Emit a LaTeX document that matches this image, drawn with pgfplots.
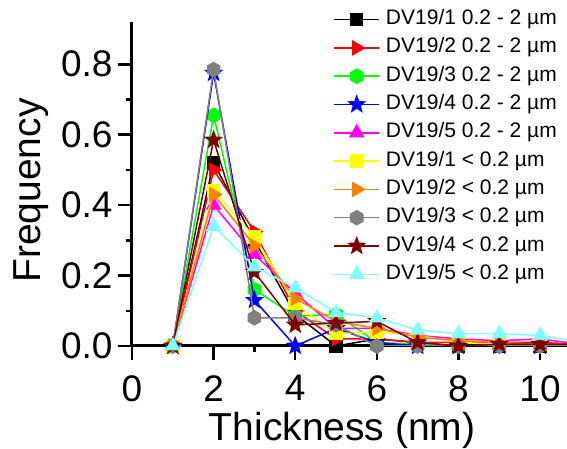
\documentclass[border=0pt]{standalone}
\usepackage{fontspec}
\setmainfont{Liberation Sans}
\usepackage{pgfplots}
\pgfplotsset{compat=1.18}
\usepackage{pgfplotstable}

\definecolor{cBlack}{HTML}{000000}
\definecolor{cRed}{HTML}{FF0000}
\definecolor{cGreen}{HTML}{00FF00}
\definecolor{cBlue}{HTML}{0000FF}
\definecolor{cMagenta}{HTML}{FF00FF}
\definecolor{cYellow}{HTML}{FFFF00}
\definecolor{cOrange}{HTML}{FF8000}
\definecolor{cGray}{HTML}{808080}
\definecolor{cBrown}{HTML}{800000}
\definecolor{cCyan}{HTML}{80FFFF}

% filled hexagon, vertex up
\pgfdeclareplotmark{hexagon*}{%
  \pgfpathmoveto{\pgfpointpolar{90}{\pgfplotmarksize}}%
  \pgfpathlineto{\pgfpointpolar{150}{\pgfplotmarksize}}%
  \pgfpathlineto{\pgfpointpolar{210}{\pgfplotmarksize}}%
  \pgfpathlineto{\pgfpointpolar{270}{\pgfplotmarksize}}%
  \pgfpathlineto{\pgfpointpolar{330}{\pgfplotmarksize}}%
  \pgfpathlineto{\pgfpointpolar{30}{\pgfplotmarksize}}%
  \pgfpathclose\pgfusepathqfillstroke}
% filled five-point star
\pgfdeclareplotmark{fstar*}{%
  \pgfpathmoveto{\pgfpointpolar{90}{\pgfplotmarksize}}%
  \pgfpathlineto{\pgfpointpolar{126}{0.42\pgfplotmarksize}}%
  \pgfpathlineto{\pgfpointpolar{162}{\pgfplotmarksize}}%
  \pgfpathlineto{\pgfpointpolar{198}{0.42\pgfplotmarksize}}%
  \pgfpathlineto{\pgfpointpolar{234}{\pgfplotmarksize}}%
  \pgfpathlineto{\pgfpointpolar{270}{0.42\pgfplotmarksize}}%
  \pgfpathlineto{\pgfpointpolar{306}{\pgfplotmarksize}}%
  \pgfpathlineto{\pgfpointpolar{342}{0.42\pgfplotmarksize}}%
  \pgfpathlineto{\pgfpointpolar{18}{\pgfplotmarksize}}%
  \pgfpathlineto{\pgfpointpolar{54}{0.42\pgfplotmarksize}}%
  \pgfpathclose\pgfusepathqfillstroke}

% thickness (nm) vs frequency; a = 0.2-2 um, b = <0.2 um
\pgfplotstableread{
x   aone atwo athree afour afive  bone btwo bthree bfour bfive
1   0    0    0      0     0      0    0    0      0     0
2   0.52 0.50 0.655  0.775 0.40   0.44 0.43 0.785  0.585 0.34
3   0.30 0.325 0.16  0.13  0.26   0.31 0.285 0.08  0.21  0.225
4   0.09 0.10 0.085  0.0   0.15   0.12 0.135 0.08  0.06  0.165
5   0.0  0.02 0.09   0.05  0.05   0.035 0.07 0.06  0.065 0.095
6   0.02 0.02 0.01   0.01  0.05   0.04 0.05 0.0    0.07  0.08
7   0.01 0.01 0.005  0.0   0.03   0.03 0.025 0.0   0.01  0.045
8   0.0  0.01 0.0    0.0   0.02   0.01 0.015 0.0   0.0   0.035
9   0.0  0.01 0.0    0.0   0.015  0.005 0.01 0.0   0.005 0.035
10  0.0  0.01 0.0    0.0   0.02   0.005 0.005 0.0  0.005 0.03
11  0.0  0.005 0.0   0.0   0.005  0.005 0.005 0.0  0.005 0.01
}\thick

\begin{document}
\begin{tikzpicture}
\begin{axis}[
  name=ax,
  scale only axis, width=435pt, height=324pt,
  xmin=0, xmax=10.66, ymin=0, ymax=0.92,
  axis x line=bottom, axis y line=left,
  axis line style={line width=3pt, -},
  xtick={0,2,4,6,8,10}, minor xtick={1,3,5,7,9},
  ytick={0,0.2,0.4,0.6,0.8}, minor ytick={0.1,0.3,0.5,0.7},
  tick align=outside,
  major tick length=14pt, minor tick length=6pt,
  every tick/.style={black, line width=2.5pt},
  y tick label style={/pgf/number format/fixed, /pgf/number format/fixed zerofill,
    /pgf/number format/precision=1, xshift=-2pt},
  /pgf/number format/assume math mode=true,
  tick label style={font=\fontsize{37}{40}\selectfont},
  x tick label style={yshift=-12pt},
  label style={font=\fontsize{39}{42}\selectfont},
  xlabel={Thickness (nm)}, ylabel={Frequency},
  xlabel style={at={(axis description cs:0.483,-0.262)}, anchor=center},
  ylabel style={at={(axis description cs:-0.232,0.48)}, anchor=center},
  clip mode=individual,
  every axis plot/.append style={line width=1.5pt},
  legend style={draw=none, fill=none, at={(0.984,1.045)}, anchor=north east,
    font=\fontsize{21}{24}\selectfont,
    nodes={inner sep=0pt, text height=15pt, text depth=5pt},
    row sep=8.3pt, column sep=6pt},
  legend cell align=left,
  legend image code/.code={%
    \draw[mark repeat=2,mark phase=2,#1] plot coordinates {(0pt,0pt)(22.5pt,0pt)(45pt,0pt)};},
]
\addplot[cBlack, mark=square*, mark size=6pt] table[y=aone] {\thick};
\addlegendentry{DV19/1 0.2 - 2 µm}
\addplot[cRed, mark=triangle*, mark size=7.5pt, mark options={rotate=-90}] table[y=atwo] {\thick};
\addlegendentry{DV19/2 0.2 - 2 µm}
\addplot[cGreen, mark=hexagon*, mark size=7pt] table[y=athree] {\thick};
\addlegendentry{DV19/3 0.2 - 2 µm}
\addplot[cBlue, mark=fstar*, mark size=8pt] table[y=afour] {\thick};
\addlegendentry{DV19/4 0.2 - 2 µm}
\addplot[cMagenta, mark=triangle*, mark size=7.5pt] table[y=afive] {\thick};
\addlegendentry{DV19/5 0.2 - 2 µm}
\addplot[cYellow, mark=square*, mark size=6pt] table[y=bone] {\thick};
\addlegendentry{DV19/1 < 0.2 µm}
\addplot[cOrange, mark=triangle*, mark size=7.5pt, mark options={rotate=-90}] table[y=btwo] {\thick};
\addlegendentry{DV19/2 < 0.2 µm}
\addplot[cGray, mark=hexagon*, mark size=7pt] table[y=bthree] {\thick};
\addlegendentry{DV19/3 < 0.2 µm}
\addplot[cBrown, mark=fstar*, mark size=8pt] table[y=bfour] {\thick};
\addlegendentry{DV19/4 < 0.2 µm}
\addplot[cCyan, mark=triangle*, mark size=7.5pt] table[y=bfive] {\thick};
\addlegendentry{DV19/5 < 0.2 µm}
\end{axis}
\pgfresetboundingbox
\path[use as bounding box] ([shift={(-132pt,-103pt)}]ax.south west) rectangle ([shift={(0pt,22pt)}]ax.north east);
\end{tikzpicture}
\end{document}
